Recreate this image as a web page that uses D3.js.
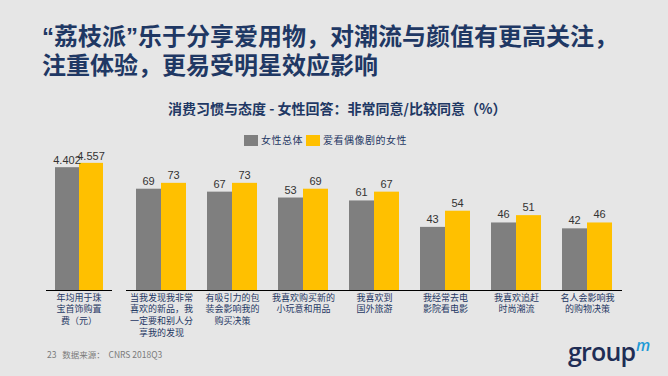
<!DOCTYPE html>
<html>
<head>
<meta charset="utf-8">
<script src="https://cdn.jsdelivr.net/npm/d3@7"></script>
<style>
  body { margin: 0; background: #e6e6e6; }
  svg { display: block; font-family: "Noto Sans CJK SC", "Noto Sans", sans-serif; }
</style>
</head>
<body>
<script>
// data
var seriesNames = ["女性总体", "爱看偶像剧的女性"];
var firstCategory = ["年均用于珠", "宝首饰购置", "费（元）"];
var firstValues = [4.402, 4.557];
var firstLabels = ["4.402", "4.557"];
var categories = [
  ["当我发现我非常", "喜欢的新品，我", "一定要和别人分", "享我的发现"],
  ["有吸引力的包", "装会影响我的", "购买决策"],
  ["我喜欢购买新的", "小玩意和用品"],
  ["我喜欢到", "国外旅游"],
  ["我经常去电", "影院看电影"],
  ["我喜欢追赶", "时尚潮流"],
  ["名人会影响我", "的购物决策"]
];
var allWomen = [69, 67, 63, 61, 43, 46, 42];
var dramaFans = [73, 73, 69, 67, 54, 51, 46];
// labels as printed on the slide (the 3rd grey bar is labelled 53)
var allWomenLabels = ["69", "67", "53", "61", "43", "46", "42"];
var dramaFansLabels = ["73", "73", "69", "67", "54", "51", "46"];

var colors = ["#7f7f7f", "#ffc000"];
var navy = "#1f3864";

var svg = d3.select("body").append("svg")
  .attr("width", 668)
  .attr("height", 376);

// title - latin font first so the quote marks stay narrow
var title = svg.append("text")
  .attr("fill", navy)
  .style("font-family", "'Liberation Sans', 'Noto Sans CJK SC', sans-serif")
  .style("font-size", "24px")
  .style("font-weight", "bold");
title.append("tspan").attr("x", 42).attr("y", 45).text("“荔枝派”乐于分享爱用物，对潮流与颜值有更高关注，");
title.append("tspan").attr("x", 42).attr("y", 74).text("注重体验，更易受明星效应影响");

svg.append("text")
  .attr("x", 168)
  .attr("y", 114)
  .attr("fill", navy)
  .style("font-size", "14px")
  .style("font-weight", "bold")
  .text("消费习惯与态度 - 女性回答：非常同意/比较同意（%）");

// legend
var legendX = [244, 306];
seriesNames.forEach(function (name, i) {
  svg.append("rect")
    .attr("x", legendX[i]).attr("y", 135)
    .attr("width", 14).attr("height", 11)
    .attr("fill", colors[i]);
  svg.append("text")
    .attr("x", legendX[i] + 17).attr("y", 144)
    .attr("fill", navy)
    .style("font-size", "10px")
    .style("letter-spacing", "0.5px")
    .text(name);
});

var baseY = 290;
var catSize = "9px";
var catStep = 11.7;

// multi-line category label as one text element
function catLabel(sel, lines, cx) {
  var t = sel.append("text")
    .attr("text-anchor", "middle")
    .attr("fill", navy)
    .style("font-size", catSize);
  t.selectAll("tspan")
    .data(lines)
    .enter().append("tspan")
    .attr("x", cx)
    .attr("y", function (d, k) { return 300.5 + k * catStep; })
    .text(function (d) { return d; });
}

// first group has its own scale (元)
var y1 = d3.scaleLinear().domain([0, 5]).range([baseY, 150.5]);
var x1 = d3.scaleBand().domain([0, 1]).range([55, 103]);

var g1 = svg.append("g");
g1.selectAll("rect")
  .data(firstValues)
  .enter().append("rect")
  .attr("x", function (d, i) { return x1(i); })
  .attr("y", function (d) { return y1(d); })
  .attr("width", x1.bandwidth())
  .attr("height", function (d) { return baseY - y1(d); })
  .attr("fill", function (d, i) { return colors[i]; });
g1.selectAll("text.val")
  .data(firstValues)
  .enter().append("text")
  .attr("class", "val")
  .attr("x", function (d, i) { return x1(i) + x1.bandwidth() / 2; })
  .attr("y", function (d) { return y1(d) - 3; })
  .attr("text-anchor", "middle")
  .attr("fill", "#333")
  .style("font-family", "'Liberation Sans', Arial, sans-serif")
  .style("font-size", "11px")
  .text(function (d, i) { return firstLabels[i]; });
g1.append("line")
  .attr("x1", 46).attr("x2", 112)
  .attr("y1", baseY + 0.5).attr("y2", baseY + 0.5)
  .attr("stroke", "#000");
catLabel(g1, firstCategory, 79);

// the percent groups
var y = d3.scaleLinear().domain([0, 100]).range([baseY, 143.2]);
var x = d3.scaleBand().domain(d3.range(categories.length)).range([126, 623]);
var xs = d3.scaleBand().domain([0, 1]).range([10, 60]);

var groups = svg.selectAll("g.grp")
  .data(categories)
  .enter().append("g")
  .attr("class", "grp")
  .attr("transform", function (d, i) { return "translate(" + x(i) + ",0)"; });

groups.each(function (cat, i) {
  var g = d3.select(this);
  var vals = [allWomen[i], dramaFans[i]];
  var labs = [allWomenLabels[i], dramaFansLabels[i]];
  g.selectAll("rect")
    .data(vals)
    .enter().append("rect")
    .attr("x", function (d, j) { return xs(j); })
    .attr("y", function (d) { return y(d); })
    .attr("width", xs.bandwidth())
    .attr("height", function (d) { return baseY - y(d); })
    .attr("fill", function (d, j) { return colors[j]; });
  g.selectAll("text.val")
    .data(vals)
    .enter().append("text")
    .attr("class", "val")
    .attr("x", function (d, j) { return xs(j) + xs.bandwidth() / 2; })
    .attr("y", function (d) { return y(d) - 4; })
    .attr("text-anchor", "middle")
    .attr("fill", "#333")
    .style("font-family", "'Liberation Sans', Arial, sans-serif")
    .style("font-size", "11px")
    .text(function (d, j) { return labs[j]; });
  catLabel(g, cat, x.bandwidth() / 2);
});

svg.append("line")
  .attr("x1", 126).attr("x2", 622)
  .attr("y1", baseY + 0.5).attr("y2", baseY + 0.5)
  .attr("stroke", "#000");

// footer
svg.append("text")
  .attr("x", 47).attr("y", 358)
  .attr("fill", "#7a7a7a")
  .style("font-size", "8.5px")
  .style("white-space", "pre")
  .text("23   数据来源：  CNRS 2018Q3");

// groupm logo
svg.append("text")
  .attr("x", 568).attr("y", 361)
  .attr("fill", "#1f2d55")
  .style("font-family", "'Open Sans', 'Noto Sans', sans-serif")
  .style("font-size", "25px")
  .style("font-weight", "600")
  .style("letter-spacing", "-0.8px")
  .text("group");
svg.append("text")
  .attr("x", 636).attr("y", 351)
  .attr("fill", "#1d9ad6")
  .style("font-family", "'Open Sans', 'Noto Sans', sans-serif")
  .style("font-size", "16px")
  .style("font-style", "italic")
  .style("font-weight", "600")
  .text("m");
</script>
</body>
</html>
